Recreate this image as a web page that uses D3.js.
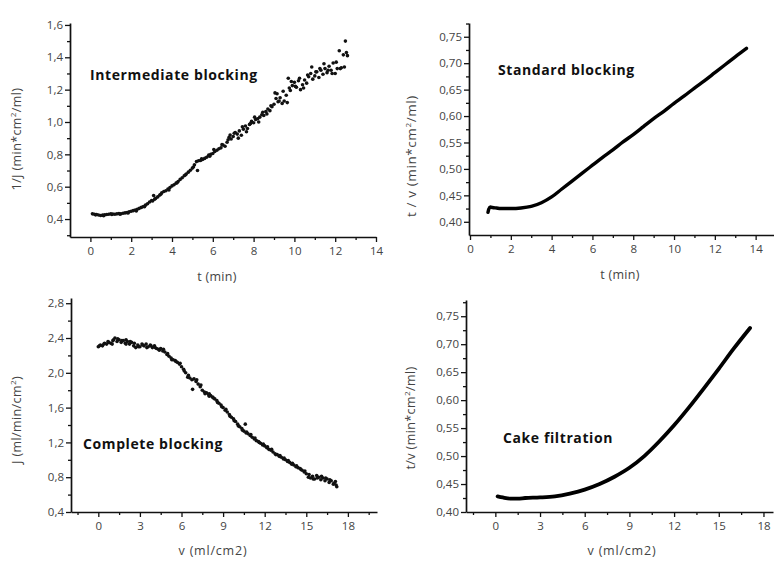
<!DOCTYPE html>
<html>
<head>
<meta charset="utf-8">
<script src="https://cdn.jsdelivr.net/npm/d3@7"></script>
<style>
  html, body { margin: 0; padding: 0; background: #fff; }
  svg text { font-family: "Open Sans", "DejaVu Sans", sans-serif; }
</style>
</head>
<body>
<svg id="chart" width="774" height="561"></svg>
<script>
// ---------- DATA ----------
// Panel A: Intermediate blocking (t [min], 1/J)
const interT = [0.1,0.2,0.3,0.4,0.5,0.6,0.7,0.8,0.9,1.0,1.1,1.2,1.3,1.4,1.5,1.6,1.7,1.8,1.9,2.0,2.1,2.2,2.3,2.4,2.5,2.6,2.7,2.8,2.9,3.0,3.1,3.15,3.2,3.3,3.4,3.5,3.6,3.7,3.8,3.9,4.0,4.1,4.2,4.3,4.4,4.5,4.6,4.7,4.8,4.9,5.0,5.1,5.2,5.25,5.3,5.4,5.5,5.6,5.7,5.8,5.9,6.0,6.1,6.2,6.3,6.4,6.5,6.6,6.7,6.8,6.85,6.9,7.0,7.1,7.2,7.3,7.4,7.5,7.6,7.7,7.8,7.9,8.0,8.1,8.2,8.3,8.4,8.5,8.6,8.7,8.8,8.9,9.0,9.1,9.15,9.2,9.3,9.4,9.5,9.6,9.7,9.75,9.8,9.9,10.0,10.1,10.2,10.3,10.4,10.5,10.6,10.7,10.8,10.9,11.0,11.1,11.2,11.3,11.4,11.5,11.6,11.7,11.8,11.9,12.0,12.1,12.2,12.3,12.4,12.5,12.6];
const interY = [0.432,0.430,0.428,0.425,0.422,0.424,0.426,0.428,0.430,0.433,0.431,0.430,0.432,0.434,0.433,0.436,0.438,0.440,0.445,0.448,0.452,0.456,0.461,0.466,0.472,0.478,0.486,0.495,0.505,0.515,0.545,0.522,0.528,0.537,0.548,0.562,0.570,0.575,0.585,0.595,0.605,0.612,0.622,0.632,0.645,0.655,0.668,0.678,0.690,0.702,0.715,0.735,0.755,0.700,0.760,0.762,0.768,0.775,0.782,0.795,0.800,0.805,0.818,0.825,0.835,0.840,0.858,0.850,0.875,0.905,0.920,0.895,0.910,0.935,0.925,0.945,0.918,0.955,0.975,0.960,0.985,1.005,0.995,1.015,1.020,1.030,1.045,1.040,1.065,1.080,1.070,1.095,1.110,1.145,1.175,1.125,1.150,1.115,1.130,1.165,1.270,1.210,1.195,1.225,1.245,1.215,1.255,1.200,1.230,1.260,1.240,1.280,1.300,1.265,1.285,1.310,1.275,1.320,1.295,1.330,1.305,1.345,1.320,1.365,1.300,1.330,1.440,1.335,1.415,1.500,1.410];
// extra scattered points of the same run
const interT2 = [0.25,0.65,1.05,1.45,1.85,2.25,2.65,3.05,3.45,3.85,4.25,4.65,5.05,5.45,5.85,6.05,6.45,6.75,7.05,7.25,7.45,7.65,7.85,8.05,8.25,8.45,8.65,8.85,9.05,9.25,9.45,9.65,9.85,10.05,10.25,10.45,10.65,10.85,11.05,11.25,11.45,11.65,11.85,12.05,12.25,12.45,12.55];
const interY2 = [0.426,0.420,0.428,0.430,0.438,0.450,0.476,0.512,0.553,0.580,0.624,0.672,0.722,0.772,0.788,0.830,0.860,0.890,0.930,0.900,0.970,0.940,0.990,1.030,1.000,1.060,1.050,1.100,1.180,1.130,1.190,1.120,1.250,1.220,1.270,1.210,1.290,1.340,1.310,1.330,1.360,1.320,1.300,1.370,1.330,1.340,1.430];

// Panel B: Standard blocking (t [min], t/V)
const stdT = [0.88,0.92,1.0,1.1,1.3,1.5,2.0,2.5,3.0,3.5,4.0,4.5,5.0,5.5,6.0,6.5,7.0,7.5,8.0,8.5,9.0,9.5,10.0,10.5,11.0,11.5,12.0,12.5,13.0,13.55];
const stdY = [0.418,0.424,0.428,0.427,0.426,0.425,0.425,0.426,0.429,0.436,0.447,0.462,0.477,0.492,0.507,0.522,0.536,0.551,0.565,0.580,0.595,0.609,0.624,0.638,0.653,0.667,0.682,0.697,0.712,0.728];

// Panel C: Complete blocking (V [ml/cm2], J)
const compV = [0.0,0.15,0.3,0.45,0.6,0.75,0.9,1.0,1.05,1.2,1.35,1.5,1.65,1.8,1.95,2.0,2.1,2.25,2.4,2.55,2.7,2.85,3.0,3.15,3.3,3.45,3.6,3.75,3.9,4.05,4.2,4.35,4.5,4.65,4.8,4.95,5.1,5.25,5.4,5.55,5.7,5.85,6.0,6.15,6.3,6.45,6.6,6.75,6.8,6.9,7.05,7.2,7.35,7.5,7.65,7.8,7.95,8.0,8.1,8.25,8.4,8.55,8.7,8.85,9.0,9.15,9.3,9.45,9.6,9.75,9.9,10.05,10.2,10.35,10.5,10.6,10.65,10.8,10.95,11.1,11.25,11.4,11.55,11.7,11.85,12.0,12.15,12.3,12.45,12.6,12.75,12.9,13.05,13.2,13.35,13.5,13.65,13.8,13.95,14.1,14.25,14.4,14.55,14.7,14.85,15.0,15.15,15.3,15.45,15.6,15.75,15.9,16.05,16.2,16.35,16.5,16.65,16.8,16.95,17.1,17.2];
const compJ = [2.30,2.32,2.31,2.34,2.33,2.35,2.34,2.33,2.37,2.40,2.36,2.38,2.35,2.37,2.34,2.38,2.36,2.33,2.35,2.31,2.29,2.32,2.30,2.33,2.31,2.33,2.30,2.32,2.29,2.31,2.28,2.27,2.28,2.25,2.24,2.21,2.19,2.17,2.15,2.14,2.12,2.10,2.07,2.04,2.00,1.95,1.94,1.92,1.81,1.93,1.90,1.87,1.84,1.80,1.78,1.77,1.75,1.73,1.74,1.72,1.70,1.68,1.65,1.63,1.60,1.57,1.55,1.52,1.49,1.47,1.44,1.41,1.38,1.36,1.33,1.41,1.31,1.30,1.28,1.26,1.24,1.22,1.21,1.19,1.17,1.16,1.14,1.12,1.11,1.09,1.07,1.06,1.04,1.03,1.01,1.00,0.98,0.97,0.95,0.94,0.92,0.91,0.90,0.88,0.86,0.84,0.80,0.79,0.81,0.78,0.82,0.80,0.77,0.79,0.76,0.78,0.74,0.76,0.72,0.75,0.69];
const compV2 = [0.08,0.4,0.7,1.1,1.4,1.7,2.0,2.3,2.6,2.9,3.2,3.5,3.8,4.1,4.4,4.7,5.0,5.3,5.6,5.9,6.2,6.5,7.1,7.4,7.7,8.0,8.3,8.6,8.9,9.2,9.5,9.8,10.1,10.4,10.7,11.0,11.3,11.6,11.9,12.2,12.5,12.8,13.1,13.4,13.7,14.0,14.3,14.6,14.9,15.2,15.5,15.8,16.1,16.4,16.7,17.0,17.15];
const compJ2 = [2.31,2.33,2.36,2.38,2.39,2.37,2.33,2.36,2.34,2.30,2.32,2.29,2.31,2.29,2.26,2.27,2.22,2.15,2.13,2.11,2.02,1.97,1.92,1.86,1.76,1.76,1.71,1.66,1.61,1.58,1.50,1.45,1.39,1.34,1.32,1.29,1.25,1.20,1.18,1.15,1.12,1.06,1.05,1.02,0.99,0.96,0.93,0.89,0.87,0.83,0.78,0.79,0.81,0.79,0.77,0.73,0.71];

// Panel D: Cake filtration (V [ml/cm2], t/V)
const cakeV = [0.15,0.5,1.0,1.5,2.0,3.0,4.0,5.0,6.0,7.0,8.0,9.0,10.0,11.0,12.0,13.0,14.0,15.0,16.0,17.1];
const cakeY = [0.428,0.426,0.424,0.424,0.425,0.426,0.428,0.433,0.440,0.450,0.463,0.479,0.500,0.526,0.555,0.587,0.621,0.656,0.692,0.729];

// Tick values
const ticksA_x = [0,2,4,6,8,10,12,14];
const ticksA_y = [0.4,0.6,0.8,1.0,1.2,1.4,1.6];
const ticksB_x = [0,2,4,6,8,10,12,14];
const ticksB_y = [0.40,0.45,0.50,0.55,0.60,0.65,0.70,0.75];
const ticksC_x = [0,3,6,9,12,15,18];
const ticksC_y = [0.4,0.8,1.2,1.6,2.0,2.4,2.8];
const ticksD_x = [0,3,6,9,12,15,18];
const ticksD_y = [0.40,0.45,0.50,0.55,0.60,0.65,0.70,0.75];

// ---------- DRAW ----------
const svg = d3.select("#chart");
const fmtComma = dig => v => d3.format("." + dig + "f")(v).replace(".", ",");

function minorTicks(major) {
  const out = [];
  for (let i = 0; i < major.length - 1; i++) out.push((major[i] + major[i+1]) / 2);
  const step = major[1] - major[0];
  out.unshift(major[0] - step / 2);
  out.push(major[major.length - 1] + step / 2);
  return out;
}

function panel(cfg) {
  const g = svg.append("g");
  const x = d3.scaleLinear().domain(cfg.xDomain).range(cfg.xRange);
  const y = d3.scaleLinear().domain(cfg.yDomain).range(cfg.yRange);
  const x0 = cfg.xRange[0], yb = cfg.yRange[0];

  const xmin = minorTicks(cfg.xTicks).filter(v => v > cfg.xDomain[0] && v < cfg.xDomain[1]);
  const ymin = minorTicks(cfg.yTicks).filter(v => v > cfg.yDomain[0] && v < cfg.yDomain[1]);

  g.append("g").attr("transform", `translate(0,${yb})`)
    .call(d3.axisBottom(x).tickValues(xmin).tickSize(3).tickFormat(""))
    .call(a => a.select(".domain").remove());
  g.append("g").attr("transform", `translate(${x0},0)`)
    .call(d3.axisLeft(y).tickValues(ymin).tickSize(3).tickFormat(""))
    .call(a => a.select(".domain").remove());

  g.append("g").attr("transform", `translate(0,${yb})`)
    .call(d3.axisBottom(x).tickValues(cfg.xTicks).tickSize(5).tickSizeOuter(0).tickPadding(5).tickFormat(d3.format("d")));
  g.append("g").attr("transform", `translate(${x0},0)`)
    .call(d3.axisLeft(y).tickValues(cfg.yTicks).tickSize(5).tickSizeOuter(0).tickPadding(2).tickFormat(fmtComma(cfg.yDigits)));

  g.selectAll(".tick line").attr("stroke", "#111").attr("stroke-width", 1.3);
  g.selectAll(".domain").attr("stroke", "#111").attr("stroke-width", 1.7);
  g.selectAll(".tick text").attr("fill", "#444").style("font-size", "11.5px");

  if (cfg.type === "scatter") {
    const pts = cfg.xs.map((v, i) => [v, cfg.ys[i]]).concat(cfg.xs2.map((v, i) => [v, cfg.ys2[i]]));
    g.append("g").selectAll("circle").data(pts)
      .join("circle")
      .attr("cx", d => x(d[0])).attr("cy", d => y(d[1]))
      .attr("r", 1.8).attr("fill", "#111");
  } else {
    const line = d3.line().x(d => x(d[0])).y(d => y(d[1])).curve(d3.curveMonotoneX);
    g.append("path").datum(cfg.xs.map((v, i) => [v, cfg.ys[i]]))
      .attr("d", line).attr("fill", "none").attr("stroke", "#000")
      .attr("stroke-width", cfg.lw).attr("stroke-linejoin", "round").attr("stroke-linecap", "round");
  }

  g.append("text").attr("x", cfg.xTitlePos[0]).attr("y", cfg.xTitlePos[1])
    .attr("text-anchor", "middle").attr("fill", "#444")
    .style("font-size", cfg.xTitleSize + "px").style("letter-spacing", cfg.xTitleLs + "px")
    .text(cfg.xTitle);

  const yt = g.append("text")
    .attr("transform", `translate(${cfg.yTitlePos[0]},${cfg.yTitlePos[1]}) rotate(-90)`)
    .attr("text-anchor", "middle").attr("fill", "#444")
    .style("font-size", cfg.yTitleSize + "px").style("letter-spacing", cfg.yTitleLs + "px");
  cfg.yTitle.forEach(part => {
    const t = yt.append("tspan").text(part.t);
    if (part.sup) t.attr("baseline-shift", "super").style("font-size", "8px");
  });

  g.append("text").attr("x", cfg.notePos[0]).attr("y", cfg.notePos[1])
    .attr("fill", "#111").style("font-size", "14px").style("font-weight", "bold")
    .style("letter-spacing", "0.6px")
    .attr("dominant-baseline", "middle").text(cfg.note);
}

panel({
  type: "scatter", xs: interT, ys: interY, xs2: interT2, ys2: interY2,
  xDomain: [-1, 14], xRange: [70, 376],
  yDomain: [0.289, 1.612], yRange: [237, 23],
  xTicks: ticksA_x, yTicks: ticksA_y, yDigits: 1,
  xTitle: "t (min)", xTitlePos: [217, 281], xTitleSize: 12.5, xTitleLs: 0.3,
  yTitle: [{t: "1/J  (min*cm"}, {t: "2", sup: true}, {t: "/ml)"}], yTitlePos: [21, 139], yTitleSize: 12.5, yTitleLs: 0.4,
  note: "Intermediate blocking", notePos: [90, 76]
});

panel({
  type: "line", xs: stdT, ys: stdY, lw: 3.4,
  xDomain: [-0.05, 14.9], xRange: [469, 774],
  yDomain: [0.375, 0.776], yRange: [235, 23],
  xTicks: ticksB_x, yTicks: ticksB_y, yDigits: 2,
  xTitle: "t (min)", xTitlePos: [620, 279], xTitleSize: 12.5, xTitleLs: 0.3,
  yTitle: [{t: "t / v  (min*cm"}, {t: "2", sup: true}, {t: "/ml)"}], yTitlePos: [416, 156], yTitleSize: 13.5, yTitleLs: 0.6,
  note: "Standard blocking", notePos: [498, 71]
});

panel({
  type: "scatter", xs: compV, ys: compJ, xs2: compV2, ys2: compJ2,
  xDomain: [-1.97, 20.1], xRange: [71, 377],
  yDomain: [0.4, 2.86], yRange: [512, 298],
  xTicks: ticksC_x, yTicks: ticksC_y, yDigits: 1,
  xTitle: "v  (ml/cm2)", xTitlePos: [213, 555], xTitleSize: 12.5, xTitleLs: 0.8,
  yTitle: [{t: "J  (ml/min/cm"}, {t: "2", sup: true}, {t: ")"}], yTitlePos: [21, 420], yTitleSize: 12.5, yTitleLs: 0.4,
  note: "Complete blocking", notePos: [83, 445]
});

panel({
  type: "line", xs: cakeV, ys: cakeY, lw: 3.8,
  xDomain: [-1.97, 18.64], xRange: [466, 773],
  yDomain: [0.40, 0.779], yRange: [512, 300],
  xTicks: ticksD_x, yTicks: ticksD_y, yDigits: 2,
  xTitle: "v  (ml/cm2)", xTitlePos: [622, 555], xTitleSize: 12.5, xTitleLs: 0.8,
  yTitle: [{t: "t/v  (min*cm"}, {t: "2", sup: true}, {t: "/ml)"}], yTitlePos: [415, 418], yTitleSize: 12.5, yTitleLs: 0.4,
  note: "Cake filtration", notePos: [503, 439]
});
</script>
</body>
</html>
